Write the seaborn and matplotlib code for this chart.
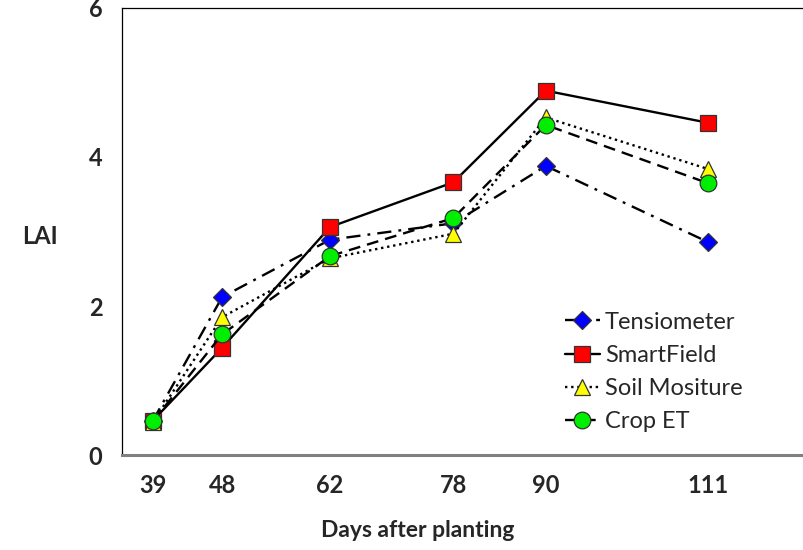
import numpy as np
import pandas as pd
import matplotlib
matplotlib.use("Agg")
import matplotlib.pyplot as plt
import seaborn as sns

# LAI readings by days after planting
days = [39, 48, 62, 78, 90, 111]
tensiometer = [0.46, 2.12, 2.89, 3.11, 3.88, 2.86]
smartfield = [0.46, 1.44, 3.06, 3.66, 4.89, 4.46]
soil_moisture = [0.44, 1.85, 2.64, 2.97, 4.53, 3.84]
crop_et = [0.45, 1.62, 2.67, 3.18, 4.43, 3.65]

series_names = ["Tensiometer", "SmartField", "Soil Mositure", "Crop ET"]

sns.set_style("white")
plt.rcParams['font.family'] = ['Lato', 'DejaVu Sans']

fig = plt.figure(figsize=(8.04, 5.5), dpi=100)
ax = fig.add_axes([0.1517, 0.1727, 0.8483, 0.8128])

# style per series: linestyle, marker, face colour, marker size
styles = [
    ((0, (6, 3, 1.2, 3)), "D", "#0000ff", 9),
    ("-", "s", "#ff0000", 11),
    ((0, (1, 1.6)), "^", "#ffff00", 11),
    ((0, (5, 3)), "o", "#00ee00", 12),
]
all_vals = [tensiometer, smartfield, soil_moisture, crop_et]

for name, vals, (ls, mk, fc, ms) in zip(series_names, all_vals, styles):
    sns.lineplot(x=days, y=vals, ax=ax, color="black", linestyle=ls, linewidth=1.7,
                 marker=mk, markerfacecolor=fc, markeredgecolor="#333333",
                 markeredgewidth=0.9, markersize=ms, label=name)

ax.set_xlim(35, 123.5)
ax.set_ylim(0, 6)
ax.set_xticks(days)
ax.set_xticklabels([str(d) for d in days])
ax.set_yticks([0, 1, 2, 3, 4, 5, 6])
ax.set_yticklabels(["0", "", "2", "", "4", "", "6"])

ax.tick_params(axis="x", length=0, pad=14, labelsize=17)
ax.tick_params(axis="y", direction="in", length=7, width=0.8, pad=14, labelsize=17)
for lab in ax.get_xticklabels() + ax.get_yticklabels():
    lab.set_fontweight("bold")

ax.spines["right"].set_visible(False)
ax.spines["top"].set_color("black")
ax.spines["top"].set_linewidth(0.9)
ax.spines["left"].set_color("black")
ax.spines["left"].set_linewidth(0.9)
ax.spines["bottom"].set_color("#808080")
ax.spines["bottom"].set_linewidth(2.2)

ax.set_xlabel("Days after planting", fontsize=16.5, fontweight="bold")
ax.xaxis.set_label_coords(0.433, -0.145)
ax.xaxis.label.set_va("top")
ax.set_ylabel("LAI", fontsize=17, fontweight="bold", rotation=0)
ax.yaxis.set_label_coords(-0.12, 0.488)
ax.yaxis.label.set_va("center")

ax.legend(loc="lower left", bbox_to_anchor=(0.618, 0.003), frameon=False,
          fontsize=17, handlelength=1.5, handletextpad=0.2, labelspacing=0.52)

fig.savefig("out.png", dpi=100)
